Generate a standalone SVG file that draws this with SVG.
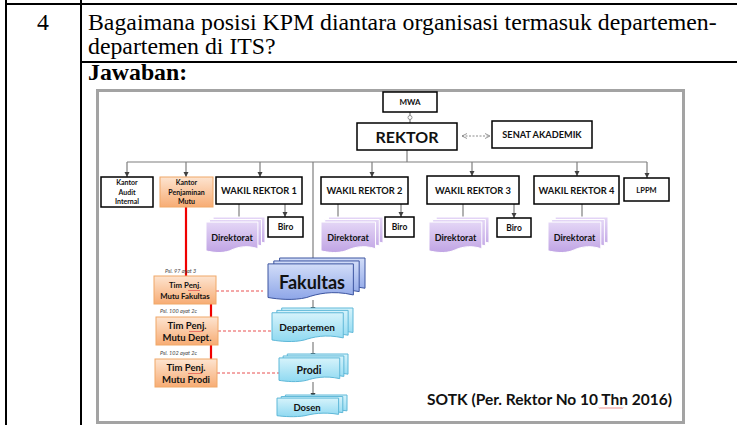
<svg xmlns="http://www.w3.org/2000/svg" xmlns:xlink="http://www.w3.org/1999/xlink" width="737" height="425" viewBox="0 0 737 425">
<style>
.tbl{stroke:#000;stroke-width:2;fill:none}
.q{font-family:"Liberation Serif","Times New Roman",serif;font-size:23.8px;fill:#000}
.b{fill:#fff;stroke:#000;stroke-width:1.5}
.t{font-family:Lato,"Open Sans",sans-serif;font-weight:bold;fill:#111;text-anchor:middle}
.c{stroke:#7f7f7f;stroke-width:1.2;fill:none}
.ca{stroke:#7f7f7f;stroke-width:1.2;fill:none;marker-end:url(#ah)}
.o{fill:url(#gO);stroke:#f0a868;stroke-width:1}
.red{stroke:#f00000;stroke-width:2.2;fill:none}
.rd{stroke:#e85050;stroke-width:1;stroke-dasharray:3 2;fill:none}
.psl{font-family:Lato,"Open Sans",sans-serif;font-style:italic;font-size:5.5px;fill:#444}
.sq{stroke:#e03c3c;stroke-width:0.6;fill:none}
</style>
<defs>
<linearGradient id="gO" x1="0" y1="0" x2="0" y2="1"><stop offset="0" stop-color="#fde4d0"/><stop offset="1" stop-color="#f7ac74"/></linearGradient>
<linearGradient id="gP" x1="0" y1="0" x2="0" y2="1"><stop offset="0" stop-color="#e4d6f6"/><stop offset="1" stop-color="#c0a4e4"/></linearGradient>
<linearGradient id="gB" x1="0" y1="0" x2="0" y2="1"><stop offset="0" stop-color="#d2ddf8"/><stop offset="1" stop-color="#8ea6e8"/></linearGradient>
<linearGradient id="gC" x1="0" y1="0" x2="0" y2="1"><stop offset="0" stop-color="#d6f3fb"/><stop offset="1" stop-color="#8fd9f1"/></linearGradient>
<marker id="ah" markerWidth="6" markerHeight="6" refX="5" refY="3" orient="auto" markerUnits="userSpaceOnUse"><path d="M0,0.5 L5,3 L0,5.5 Z" fill="#404040"/></marker>
<marker id="oa" markerWidth="6" markerHeight="6" refX="5" refY="3" orient="auto-start-reverse" markerUnits="userSpaceOnUse"><path d="M0,0.5 L5,3 L0,5.5" fill="none" stroke="#7f7f7f" stroke-width="0.8"/></marker>
<symbol id="md" viewBox="0 0 100 100" preserveAspectRatio="none" overflow="visible">
<path vector-effect="non-scaling-stroke" d="M12,0 H100 V72 C78,62 62,72 52,79 C38,87 22,83 12,79 Z"/>
<path vector-effect="non-scaling-stroke" d="M6,7 H94 V80 C72,70 56,80 46,87 C32,95 16,91 6,87 Z"/>
<path vector-effect="non-scaling-stroke" d="M0,14 H88 V88 C66,76 50,86 40,94 C26,102 10,98 0,94 Z"/>
</symbol>
</defs>
<rect width="737" height="425" fill="#fff"/>
<g id="table">
<line class="tbl" x1="6" y1="0" x2="6" y2="425"/>
<line class="tbl" x1="81" y1="0" x2="81" y2="425"/>
<line class="tbl" x1="6" y1="4" x2="737" y2="4"/>
<line class="tbl" x1="81" y1="62" x2="737" y2="62"/>
<text class="q" x="43" y="30" text-anchor="middle">4</text>
<text class="q" x="88" y="30">Bagaimana posisi KPM diantara organisasi termasuk departemen-</text>
<text class="q" x="88" y="54">departemen di ITS?</text>
<text class="q" x="88" y="80" font-weight="bold">Jawaban:</text>
</g>
<rect x="97.5" y="90.5" width="586" height="332" fill="#fff" stroke="#a3a3a3" stroke-width="3"/>
<g id="connectors">
<line class="c" x1="410" y1="112" x2="410" y2="123"/>
<circle cx="410" cy="117.5" r="2" fill="#fff" stroke="#7f7f7f" stroke-width="0.8"/>
<line x1="462" y1="136" x2="490" y2="136" stroke="#7f7f7f" stroke-width="0.9" stroke-dasharray="2 1.5" marker-start="url(#oa)" marker-end="url(#oa)"/>
<line class="c" x1="407" y1="150" x2="407" y2="162"/>
<line class="c" x1="127" y1="162" x2="647" y2="162"/>
<line class="ca" x1="127" y1="162" x2="127" y2="177"/>
<line class="ca" x1="186" y1="162" x2="186" y2="177"/>
<line class="ca" x1="260" y1="162" x2="260" y2="177"/>
<line class="ca" x1="372" y1="162" x2="372" y2="177"/>
<line class="ca" x1="472" y1="162" x2="472" y2="176"/>
<line class="ca" x1="577" y1="162" x2="577" y2="176"/>
<line class="ca" x1="647" y1="162" x2="647" y2="178"/>
<line class="ca" x1="313" y1="162" x2="313" y2="263"/>
<line class="ca" x1="239" y1="204" x2="239" y2="222"/>
<line class="ca" x1="285" y1="204" x2="285" y2="217"/>
<line class="ca" x1="338" y1="204" x2="338" y2="222"/>
<line class="ca" x1="401" y1="204" x2="401" y2="217"/>
<line class="ca" x1="463" y1="204" x2="463" y2="222"/>
<line class="ca" x1="514" y1="204" x2="514" y2="218"/>
<line class="ca" x1="582" y1="204" x2="582" y2="222"/>
<line class="ca" x1="313" y1="300" x2="313" y2="312"/>
<line class="ca" x1="313" y1="342" x2="313" y2="358"/>
<line class="ca" x1="313" y1="382" x2="313" y2="398"/>
<line class="red" x1="186" y1="207" x2="186" y2="276"/>
<line class="red" x1="211" y1="304" x2="211" y2="317"/>
<line class="red" x1="211" y1="345" x2="211" y2="359"/>
<line class="rd" x1="216" y1="291" x2="263" y2="291"/>
<line class="rd" x1="218" y1="331" x2="273" y2="331"/>
<line class="rd" x1="217" y1="373" x2="282" y2="373"/>
</g>
<g id="mwa"><rect class="b" x="383" y="92" width="54" height="20"/><text class="t" x="410" y="105" font-size="8">MWA</text></g>
<g id="rektor"><rect class="b" x="357" y="123" width="100" height="27"/><text class="t" x="407" y="142.5" font-size="16">REKTOR</text></g>
<g id="senat"><rect class="b" x="492" y="121" width="100" height="27"/><text class="t" x="542" y="138" font-size="9.2">SENAT AKADEMIK</text></g>
<g id="audit"><rect class="b" x="101" y="177" width="52" height="30"/><text class="t" font-size="7"><tspan x="127" y="185">Kantor</tspan><tspan x="127" y="194.5">Audit</tspan><tspan x="127" y="204">Internal</tspan></text></g>
<g id="kpm"><rect class="o" x="160" y="177" width="53" height="30"/><text class="t" font-size="7" fill="#333"><tspan x="186.5" y="185">Kantor</tspan><tspan x="186.5" y="194.5">Penjaminan</tspan><tspan x="186.5" y="204">Mutu</tspan></text></g>
<g id="wr1"><rect class="b" x="216" y="177" width="86" height="27"/><text class="t" x="259" y="194" font-size="9.3">WAKIL REKTOR 1</text></g>
<g id="wr2"><rect class="b" x="321" y="177" width="87" height="27"/><text class="t" x="364.5" y="194" font-size="9.3">WAKIL REKTOR 2</text></g>
<g id="wr3"><rect class="b" x="427" y="176" width="92" height="28"/><text class="t" x="473" y="193.5" font-size="9.3">WAKIL REKTOR 3</text></g>
<g id="wr4"><rect class="b" x="534" y="176" width="85" height="28"/><text class="t" x="576.5" y="193.5" font-size="9.3">WAKIL REKTOR 4</text></g>
<g id="lppm"><rect class="b" x="624" y="178" width="45" height="23"/><text class="t" x="646.5" y="192.5" font-size="7.5">LPPM</text></g>
<g id="dir1"><use href="#md" x="206" y="217" width="59" height="36" fill="url(#gP)" stroke="#fff"/><text class="t" x="232" y="241" font-size="9">Direktorat</text></g>
<g id="biro1"><rect class="b" x="268" y="217" width="35" height="20"/><text class="t" x="285.5" y="230" font-size="8.5">Biro</text></g>
<g id="dir2"><use href="#md" x="321" y="217" width="62" height="36" fill="url(#gP)" stroke="#fff"/><text class="t" x="348" y="241" font-size="9">Direktorat</text></g>
<g id="biro2"><rect class="b" x="385" y="217" width="29" height="20"/><text class="t" x="399.5" y="230" font-size="8.5">Biro</text></g>
<g id="dir3"><use href="#md" x="429" y="217" width="60" height="36" fill="url(#gP)" stroke="#fff"/><text class="t" x="455.5" y="241" font-size="9">Direktorat</text></g>
<g id="biro3"><rect class="b" x="497" y="218" width="34" height="19"/><text class="t" x="514" y="230.5" font-size="8.5">Biro</text></g>
<g id="dir4"><use href="#md" x="548" y="217" width="60" height="36" fill="url(#gP)" stroke="#fff"/><text class="t" x="574.5" y="241" font-size="9">Direktorat</text></g>
<g id="timfak"><text class="psl" x="165" y="273">Psl. 97 ayat 3</text><rect class="o" x="154" y="276" width="62" height="28"/><text class="t" font-size="7.8"><tspan x="185" y="288">Tim Penj.</tspan><tspan x="185" y="299">Mutu  Fakultas</tspan></text><path class="sq" d="M188,290 l1,1 1,-1 1,1 1,-1 1,1 1,-1 1,1 1,-1 1,1 1,-1 1,1 1,-1"/></g>
<g id="timdept"><text class="psl" x="160" y="313">Psl. 100 ayat 2c</text><rect class="o" x="156" y="317" width="62" height="28"/><text class="t" font-size="9.5"><tspan x="187" y="329">Tim Penj.</tspan><tspan x="187" y="341">Mutu Dept.</tspan></text><path class="sq" d="M189,331 l1,1 1,-1 1,1 1,-1 1,1 1,-1 1,1 1,-1 1,1 1,-1 1,1 1,-1 1,1 1,-1"/></g>
<g id="timprodi"><text class="psl" x="160" y="355">Psl. 102 ayat 2c</text><rect class="o" x="155" y="359" width="62" height="28"/><text class="t" font-size="9.5"><tspan x="186" y="371">Tim Penj.</tspan><tspan x="186" y="383">Mutu Prodi</tspan></text><path class="sq" d="M188,373 l1,1 1,-1 1,1 1,-1 1,1 1,-1 1,1 1,-1 1,1 1,-1 1,1 1,-1 1,1 1,-1"/></g>
<g id="fakultas"><use href="#md" x="268" y="258" width="97" height="42" fill="url(#gB)" stroke="#3d55a0"/><text class="t" x="312" y="288.5" font-size="18">Fakultas</text></g>
<g id="departemen"><use href="#md" x="272" y="308" width="81" height="34" fill="url(#gC)" stroke="#5fb8d8"/><text class="t" x="307" y="331" font-size="10">Departemen</text></g>
<g id="prodi"><use href="#md" x="279" y="354" width="69" height="28" fill="url(#gC)" stroke="#5fb8d8"/><text class="t" x="309" y="374" font-size="10.5">Prodi</text></g>
<g id="dosen"><use href="#md" x="277" y="395" width="70" height="22" fill="url(#gC)" stroke="#5fb8d8"/><text class="t" x="307" y="410.5" font-size="9.5">Dosen</text></g>
<g id="sotk"><text class="t" x="549.5" y="404.5" font-size="15.5">SOTK (Per. Rektor No 10 Thn 2016)</text><path class="sq" d="M599,407.5 l1,1 1,-1 1,1 1,-1 1,1 1,-1 1,1 1,-1 1,1 1,-1 1,1 1,-1 1,1 1,-1 1,1 1,-1 1,1 1,-1 1,1 1,-1 1,1 1,-1 1,1 1,-1"/></g>
</svg>
